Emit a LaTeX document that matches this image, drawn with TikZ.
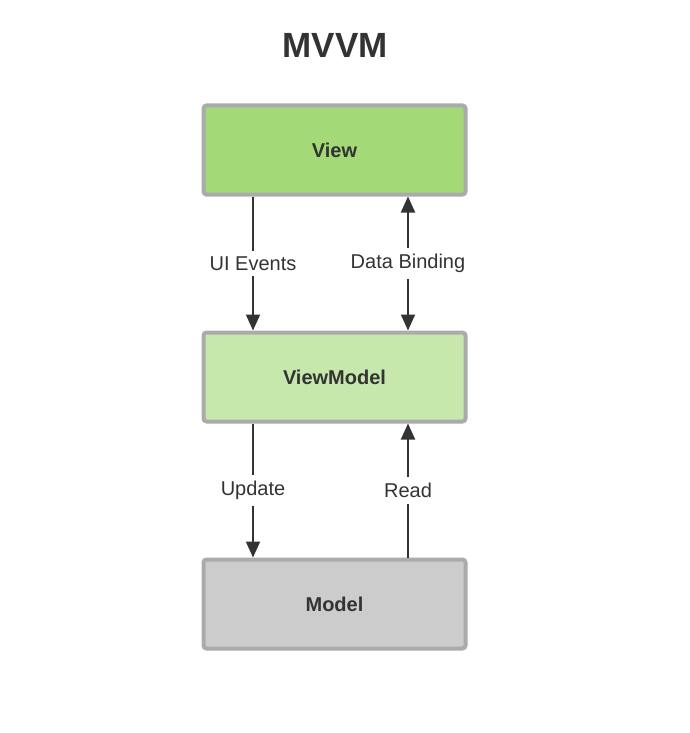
\documentclass[tikz,border=0pt]{standalone}
\usepackage{fontspec}
\setmainfont{Liberation Sans}
\usetikzlibrary{arrows.meta, positioning}
\definecolor{viewgreen}{HTML}{A3D977}
\definecolor{vmgreen}{HTML}{C7E8AC}
\definecolor{modelgray}{HTML}{CCCCCC}
\definecolor{bordergray}{HTML}{ABABAB}
\definecolor{textdark}{HTML}{333333}
\tikzstyle{layer} = [rectangle, rounded corners = 1.5pt, minimum width = 131pt, minimum height = 44.5pt,
text centered, draw = bordergray, line width = 2pt, text = textdark, font = \bfseries\fontsize{10}{12}\selectfont]
\tikzstyle{arrow} = [line width = 1pt, draw = textdark, -{Triangle[length = 8pt, width = 7pt]}]
\tikzstyle{tag} = [fill = white, text = textdark, inner sep = 3pt, font = \fontsize{10}{12}\selectfont]

\begin{document}
\begin{tikzpicture}
\useasboundingbox (0,0) rectangle (345pt,-366.5pt);
\node (title) [text = textdark, font = \bfseries\fontsize{17.5}{20}\selectfont] at (167.5pt,-22.5pt) {MVVM};
\node (view) [layer, fill = viewgreen] at (167.25pt,-75pt) {View};
\node (viewmodel) [layer, fill = vmgreen, below = 67pt of view] {ViewModel};
\node (model) [layer, fill = modelgray, below = 67pt of viewmodel] {Model};

\draw[arrow] ([xshift = -40.75pt]view.south) -- node[tag]{UI Events} ([xshift = -40.75pt]viewmodel.north);
\draw[arrow, {Triangle[length = 8pt, width = 7pt]}-{Triangle[length = 8pt, width = 7pt]}] ([xshift = 36.75pt]view.south) -- node[tag]{Data Binding} ([xshift = 36.75pt]viewmodel.north);
\draw[arrow] ([xshift = -40.75pt]viewmodel.south) -- node[tag]{Update} ([xshift = -40.75pt]model.north);
\draw[arrow] ([xshift = 36.75pt]model.north) -- node[tag]{Read} ([xshift = 36.75pt]viewmodel.south);
\end{tikzpicture}
\end{document}
